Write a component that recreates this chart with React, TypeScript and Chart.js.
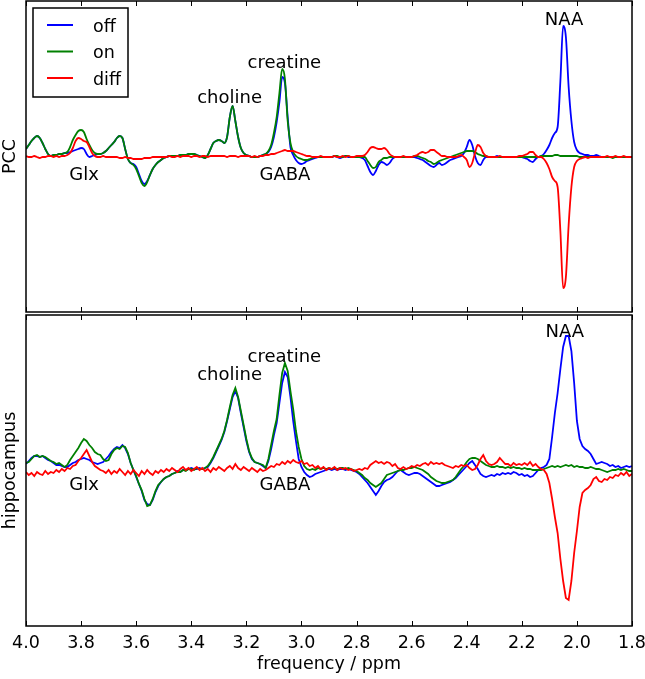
import { useEffect, useRef } from "react";
import { Chart, registerables } from "chart.js";

Chart.register(...registerables);

const FONT = "'DejaVu Sans', sans-serif";

// chemical shift grid (ppm)
const ppm = [
  4.00, 3.99, 3.98, 3.97, 3.96, 3.95, 3.94, 3.93, 3.92, 3.91,
  3.90, 3.89, 3.88, 3.87, 3.86, 3.85, 3.84, 3.83, 3.82, 3.81,
  3.80, 3.79, 3.78, 3.77, 3.76, 3.75, 3.74, 3.73, 3.72, 3.71,
  3.70, 3.69, 3.68, 3.67, 3.66, 3.65, 3.64, 3.63, 3.62, 3.61,
  3.60, 3.59, 3.58, 3.57, 3.56, 3.55, 3.54, 3.53, 3.52, 3.51,
  3.50, 3.49, 3.48, 3.47, 3.46, 3.45, 3.44, 3.43, 3.42, 3.41,
  3.40, 3.39, 3.38, 3.37, 3.36, 3.35, 3.34, 3.33, 3.32, 3.31,
  3.30, 3.29, 3.28, 3.27, 3.26, 3.25, 3.24, 3.23, 3.22, 3.21,
  3.20, 3.19, 3.18, 3.17, 3.16, 3.15, 3.14, 3.13, 3.12, 3.11,
  3.10, 3.09, 3.08, 3.07, 3.06, 3.05, 3.04, 3.03, 3.02, 3.01,
  3.00, 2.99, 2.98, 2.97, 2.96, 2.95, 2.94, 2.93, 2.92, 2.91,
  2.90, 2.89, 2.88, 2.87, 2.86, 2.85, 2.84, 2.83, 2.82, 2.81,
  2.80, 2.79, 2.78, 2.77, 2.76, 2.75, 2.74, 2.73, 2.72, 2.71,
  2.70, 2.69, 2.68, 2.67, 2.66, 2.65, 2.64, 2.63, 2.62, 2.61,
  2.60, 2.59, 2.58, 2.57, 2.56, 2.55, 2.54, 2.53, 2.52, 2.51,
  2.50, 2.49, 2.48, 2.47, 2.46, 2.45, 2.44, 2.43, 2.42, 2.41,
  2.40, 2.39, 2.38, 2.37, 2.36, 2.35, 2.34, 2.33, 2.32, 2.31,
  2.30, 2.29, 2.28, 2.27, 2.26, 2.25, 2.24, 2.23, 2.22, 2.21,
  2.20, 2.19, 2.18, 2.17, 2.16, 2.15, 2.14, 2.13, 2.12, 2.11,
  2.10, 2.09, 2.08, 2.07, 2.06, 2.05, 2.04, 2.03, 2.02, 2.01,
  2.00, 1.99, 1.98, 1.97, 1.96, 1.95, 1.94, 1.93, 1.92, 1.91,
  1.90, 1.89, 1.88, 1.87, 1.86, 1.85, 1.84, 1.83, 1.82, 1.81,
  1.80,
];

const xTickValues = [4.0, 3.8, 3.6, 3.4, 3.2, 3.0, 2.8, 2.6, 2.4, 2.2, 2.0, 1.8];
const xTickLabels = ["4.0", "3.8", "3.6", "3.4", "3.2", "3.0", "2.8", "2.6", "2.4", "2.2", "2.0", "1.8"];
const xTitle = "frequency / ppm";

const seriesNames = ["off", "on", "diff"];
const seriesColors = ["#0000ff", "#008000", "#ff0000"];

// ---- PCC (top panel) ----
const pccOff = [
  8, 12, 16, 19, 21, 19, 14, 8, 3, 1,
  2, 2, 3, 3, 4, 4, 5, 6, 7, 8,
  9, 8, 3, 0, 1, 2, 3, 3, 4, 6,
  9, 12, 15, 19, 21, 19, 8, -2, -6, -7,
  -10, -17, -24, -27, -24, -18, -12, -8, -5, -3,
  -1, 0, 1, 1, 1, 1, 2, 2, 2, 3,
  3, 3, 2, 1, 0, -1, 2, 8, 14, 16,
  17, 16, 14, 20, 40, 51, 36, 20, 9, 4,
  2, 1, 0, 0, 0, 1, 2, 3, 5, 10,
  20, 35, 55, 80, 74, 40, 10, 2, -3, -6,
  -7, -6, -4, -3, -2, -1, 0, 0, 0, 0,
  0, 0, 1, 0, -1, 0, 1, 0, 0, 0,
  0, 0, -1, -3, -9, -15, -18, -14, -8, -5,
  -6, -8, -6, -2, 0, 0, 0, 0, 0, 0,
  0, 0, -1, -2, -3, -5, -7, -9, -10, -8,
  -6, -8, -7, -5, -3, -2, -1, 0, 1, 4,
  10, 17, 12, 1, -6, -8, -3, 0, 0, 0,
  0, 1, 0, 0, 0, 0, 0, 0, 0, 0,
  0, -1, -2, -4, -5, -2, 0, 1, 3, 7,
  12, 19, 24, 30, 76, 131, 120, 70, 36, 15,
  7, 4, 3, 2, 2, 1, 1, 2, 1, 0,
  0, 0, 0, 0, 0, 0, 0, 0, 0, 0,
  0,
];

const pccOn = [
  8, 12, 16, 19, 21, 19, 14, 8, 3, 1,
  2, 2, 3, 3, 4, 5, 10, 17, 22, 26,
  27, 25, 18, 12, 7, 4, 3, 3, 4, 6,
  9, 12, 15, 19, 21, 19, 8, -2, -6, -8,
  -12, -19, -26, -29, -25, -18, -12, -8, -5, -3,
  -1, 0, 1, 1, 1, 1, 2, 2, 2, 3,
  3, 3, 2, 1, 0, -1, 2, 8, 14, 16,
  17, 16, 14, 20, 40, 51, 36, 20, 9, 4,
  2, 1, 0, 0, 0, 1, 2, 3, 6, 12,
  24, 40, 64, 88, 78, 36, 14, 5, 1, -1,
  -2, -3, -3, -2, -1, 0, 0, 0, 0, 0,
  0, 0, 1, 1, 0, 0, 1, 1, 0, 0,
  0, 0, 0, 0, -4, -8, -11, -10, -5, -3,
  -1, -1, 0, 0, 0, 0, 0, 0, 0, 0,
  0, 1, 1, 0, -1, -2, -4, -5, -7, -6,
  -4, -3, -2, -1, 0, 1, 2, 3, 4, 5,
  6, 6, 6, 5, 3, 2, 1, 1, 0, 0,
  0, 0, 0, 0, 0, 0, 0, 0, 0, 0,
  0, 0, 0, 0, 0, 0, 0, 1, 1, 1,
  1, 1, 2, 2, 1, 1, 1, 1, 1, 1,
  1, 0, 0, 0, 0, 0, 0, 0, 0, 0,
  0, 0, 0, -1, 0, 0, 0, 0, 0, 0,
  0,
];

const pccDiff = [
  1, 0, 0, 1, 0, -1, 0, 0, 1, 1,
  0, 1, 0, 1, 1, 2, 4, 9, 16, 19,
  18, 16, 15, 10, 4, 1, 0, 0, 1, 0,
  0, 0, 0, 0, -1, -1, 0, -1, -1, -2,
  -2, -2, -2, -1, -1, -1, 0, 0, 0, 0,
  0, 0, 1, 0, 0, 1, 0, 1, 1, 1,
  0, 1, 1, 0, 1, 1, 0, 1, 1, 1,
  1, 1, 1, 0, 1, 1, 1, 0, 1, 1,
  1, 1, 0, 1, 0, 1, 1, 2, 2, 3,
  3, 4, 5, 6, 7, 6, 6, 6, 5, 4,
  3, 2, 1, 1, 0, 0, 0, 1, 0, 0,
  0, 0, 1, 0, 0, 1, 0, 1, 0, 0,
  1, 1, 1, 2, 5, 9, 10, 9, 8, 8,
  9, 7, 3, 1, 0, 0, 0, 1, 0, 0,
  0, 1, 2, 4, 5, 4, 5, 7, 7, 5,
  3, 1, 1, 0, 0, 0, 0, 1, 2, 0,
  -3, -10, -6, 4, 12, 10, 4, 1, 0, 0,
  0, 0, 1, 0, 0, 0, 0, 0, 0, 1,
  1, 2, 3, 5, 5, 2, 0, 0, -2, -6,
  -12, -20, -24, -30, -74, -131, -120, -68, -30, -10,
  -4, -2, -1, 0, -1, 0, 0, 0, 0, 0,
  0, 1, 0, 0, 1, 0, 0, 1, 0, 0,
  0,
];

// ---- hippocampus (bottom panel) ----
const hipOff = [
  7, 10, 13, 15, 15, 14, 15, 13, 11, 10,
  8, 6, 6, 5, 4, 4, 6, 8, 9, 11,
  12, 13, 12, 11, 9, 8, 7, 8, 9, 12,
  15, 19, 22, 24, 23, 26, 23, 17, 8, 1,
  -6, -13, -20, -29, -33, -34, -29, -21, -15, -11,
  -8, -6, -5, -3, -2, 0, -1, 1, 1, 2,
  3, 2, 2, 3, 2, 3, 4, 8, 13, 19,
  25, 31, 39, 50, 62, 74, 80, 73, 58, 44,
  30, 19, 12, 9, 8, 7, 5, 3, 10, 22,
  36, 48, 68, 88, 99, 94, 74, 50, 30, 12,
  4, -1, -4, -6, -5, -3, -2, -1, 0, 1,
  2, 1, 2, 1, 2, 2, 1, 2, 1, 0,
  -1, -3, -6, -9, -12, -16, -20, -24, -20, -15,
  -11, -9, -8, -6, -3, 0, 1, -1, -3, -4,
  -3, -2, -2, -3, -5, -7, -9, -11, -13, -15,
  -15, -14, -13, -12, -11, -9, -7, -4, -1, 2,
  5, 8, 10, 6, 2, -3, -5, -6, -5, -4,
  -5, -3, -4, -2, -3, -2, -3, -1, -2, -4,
  -3, -5, -4, -6, -5, -2, 1, 3, 4, 6,
  12, 34, 58, 78, 102, 124, 135, 135, 120, 88,
  50, 32, 25, 22, 20, 17, 12, 7, 8, 9,
  8, 7, 5, 6, 4, 5, 3, 4, 5, 4,
  5,
];

const hipOn = [
  8, 9, 12, 15, 16, 14, 15, 14, 12, 10,
  9, 7, 8, 6, 4, 6, 11, 15, 19, 23,
  28, 32, 30, 26, 23, 19, 17, 16, 12, 10,
  11, 17, 21, 23, 22, 25, 24, 18, 8, 1,
  -5, -13, -19, -28, -35, -34, -28, -20, -14, -11,
  -8, -6, -5, -3, -2, -1, -1, 1, 0, 2,
  2, 1, 3, 2, 2, 3, 5, 9, 14, 20,
  26, 32, 40, 51, 64, 76, 83, 74, 60, 46,
  32, 20, 13, 9, 8, 7, 6, 3, 12, 26,
  40, 52, 76, 98, 108, 100, 80, 62, 40, 24,
  12, 5, 2, 1, 2, 1, 3, 2, 3, 2,
  3, 2, 3, 2, 3, 3, 2, 3, 2, 1,
  0, -2, -4, -7, -9, -12, -14, -16, -14, -12,
  -8, -4, -3, -2, -1, 0, 1, 1, 2, 3,
  3, 4, 3, 2, 1, -1, -3, -6, -8, -10,
  -11, -12, -12, -11, -10, -9, -6, -2, 2, 5,
  9, 12, 13, 13, 12, 10, 8, 6, 5, 4,
  4, 5, 4, 4, 3, 4, 3, 4, 3, 3,
  2, 3, 2, 2, 1, 1, 1, 1, 2, 3,
  4, 5, 4, 5, 4, 5, 6, 5, 6, 4,
  5, 4, 4, 3, 3, 4, 3, 2, 2, 1,
  0, -1, 0, 1, 1, 2, 1, 2, 1, 0,
  0,
];

const hipDiff = [
  -1, -4, -2, -5, -1, -3, -4, 0, -3, -1,
  -2, 1, -1, 2, 0, 3, 2, 5, 6, 10,
  13, 17, 21, 15, 9, 5, 3, 1, 0, -2,
  1, -3, 0, -2, 2, -1, -4, 0, -3, 1,
  -2, -5, 0, -3, 1, -2, -4, 0, -2, 1,
  -1, 2, 0, 3, 1, -1, 2, 4, 1, 3,
  0, 2, 4, 1, 3, 0, 2, -1, 3, 1,
  4, 2, 0, 3, 5, 2, 7, 3, 1, 4,
  2, 0, 3, 1, -1, 2, 0, 1, 3, 5,
  4, 7, 6, 9, 7, 10, 8, 11, 9, 8,
  10, 7, 8, 5, 6, 3, 5, 2, 4, 1,
  3, 2, 4, 1, 3, 2, 3, 1, 2, 0,
  1, 2, 1, 3, 2, 6, 8, 10, 8, 9,
  7, 9, 8, 5, 7, 3, 2, 4, 2, 3,
  5, 4, 6, 5, 7, 8, 6, 9, 7, 8,
  7, 8, 6, 5, 4, 3, 5, 4, 6, 5,
  6, 3, 1, 2, 6, 12, 16, 10, 7, 6,
  7, 9, 13, 10, 7, 7, 5, 8, 6, 7,
  6, 8, 6, 9, 5, 7, 4, 2, 1, -3,
  -12, -28, -46, -62, -88, -110, -127, -129, -110, -82,
  -60, -36, -22, -19, -17, -14, -8, -6, -10, -11,
  -8, -9, -6, -7, -4, -5, -2, -4, -1, -5,
  -3,
];

// peak annotations
const pccPeakText = ["NAA", "creatine", "choline", "Glx", "GABA"];
const pccPeakPpm = [2.047, 3.062, 3.261, 3.789, 3.060];
const pccPeakLevel = [132, 89, 54, -23, -23];

const hipPeakText = ["NAA", "creatine", "choline", "Glx", "GABA"];
const hipPeakPpm = [2.044, 3.062, 3.261, 3.789, 3.060];
const hipPeakLevel = [134, 109, 91, -19, -19];

const yMin = -155;
const yMax = 156;

function points(values: number[]) {
  return ppm.map((x, i) => ({ x, y: values[i] }));
}

const framePlugin = {
  id: "frameTicks",
  afterDraw(chart: any) {
    const { ctx, chartArea: a, scales } = chart;
    const xs = scales.x;
    ctx.save();
    ctx.strokeStyle = "#000";
    ctx.lineWidth = 1;
    for (const v of xTickValues) {
      const px = Math.round(xs.getPixelForValue(v)) + 0.5;
      ctx.beginPath();
      ctx.moveTo(px, a.top);
      ctx.lineTo(px, a.top + 5);
      ctx.moveTo(px, a.bottom);
      ctx.lineTo(px, a.bottom - 5);
      ctx.stroke();
    }
    ctx.lineWidth = 1.5;
    ctx.strokeRect(a.left, a.top, a.right - a.left, a.bottom - a.top);
    ctx.restore();
  },
};

// tick labels + x title under the bottom panel, placed by the x scale
const xAxisTextPlugin = {
  id: "xAxisText",
  afterDraw(chart: any) {
    const { ctx, chartArea: a, scales } = chart;
    const xs = scales.x;
    ctx.save();
    ctx.fillStyle = "#000";
    ctx.font = `17.5px ${FONT}`;
    ctx.textAlign = "center";
    ctx.textBaseline = "alphabetic";
    xTickValues.forEach((v, i) => {
      ctx.fillText(xTickLabels[i], xs.getPixelForValue(v), a.bottom + 22);
    });
    ctx.fillText(xTitle, (a.left + a.right) / 2, a.bottom + 43);
    ctx.restore();
  },
};

const peakLabelPlugin = {
  id: "peakLabels",
  afterDatasetsDraw(chart: any, _args: any, opts: any) {
    const { ctx, scales } = chart;
    ctx.save();
    ctx.fillStyle = "#000";
    ctx.font = `18px ${FONT}`;
    ctx.textAlign = "center";
    ctx.textBaseline = "alphabetic";
    opts.text.forEach((t: string, i: number) => {
      const x = scales.x.getPixelForValue(opts.ppm[i]);
      const y = scales.y.getPixelForValue(opts.level[i]);
      ctx.fillText(t, x, y);
    });
    ctx.restore();
  },
};

const boxLegendPlugin = {
  id: "boxLegend",
  afterDraw(chart: any) {
    const { ctx, chartArea: a } = chart;
    const left = a.left + 7;
    const top = a.top + 7;
    const w = 95;
    const h = 89;
    ctx.save();
    ctx.fillStyle = "#fff";
    ctx.fillRect(left, top, w, h);
    ctx.strokeStyle = "#000";
    ctx.lineWidth = 1.5;
    ctx.strokeRect(left, top, w, h);
    ctx.font = `17.5px ${FONT}`;
    ctx.textAlign = "left";
    ctx.textBaseline = "alphabetic";
    chart.data.datasets.forEach((ds: any, i: number) => {
      const y = top + 17 + i * 26.5;
      ctx.strokeStyle = ds.borderColor;
      ctx.lineWidth = 2;
      ctx.beginPath();
      ctx.moveTo(left + 14, y);
      ctx.lineTo(left + 40, y);
      ctx.stroke();
      ctx.fillStyle = "#000";
      ctx.fillText(ds.label, left + 60, y + 6.5);
    });
    ctx.restore();
  },
};

function makeDatasets(series: number[][], smooth: boolean) {
  return series.map((vals, i) => ({
    label: seriesNames[i],
    data: points(vals),
    borderColor: seriesColors[i],
    backgroundColor: seriesColors[i],
    borderWidth: 1.8,
    pointRadius: 0,
    fill: false,
    order: 3 - i,
    cubicInterpolationMode: smooth ? ("monotone" as const) : ("default" as const),
    tension: 0,
  }));
}

function yAxis(title: string) {
  return {
    type: "linear" as const,
    min: yMin,
    max: yMax,
    grid: { display: false },
    border: { display: false },
    ticks: { display: false },
    title: {
      display: true,
      text: title,
      color: "#000",
      font: { family: FONT, size: 17.5 },
      padding: 0,
    },
    afterFit: (s: any) => {
      s.width = 26;
      s.paddingTop = 0;
      s.paddingBottom = 0;
    },
  };
}

export default function App() {
  const topRef = useRef<HTMLCanvasElement>(null);
  const botRef = useRef<HTMLCanvasElement>(null);

  useEffect(() => {
    Chart.defaults.font.family = FONT;
    Chart.defaults.color = "#000";

    const top = new Chart(topRef.current!, {
      type: "line",
      data: { datasets: makeDatasets([pccOff, pccOn, pccDiff], true) as any },
      options: {
        animation: false,
        responsive: false,
        maintainAspectRatio: false,
        events: [],
        layout: { padding: { left: 0, right: 13, top: 1, bottom: 2 } },
        scales: {
          x: { type: "linear", reverse: true, min: 1.8, max: 4.0, display: false },
          y: yAxis("PCC") as any,
        },
        plugins: {
          legend: { display: false },
          tooltip: { enabled: false },
          peakLabels: { text: pccPeakText, ppm: pccPeakPpm, level: pccPeakLevel },
        } as any,
      },
      plugins: [framePlugin, peakLabelPlugin, boxLegendPlugin],
    });

    const bottom = new Chart(botRef.current!, {
      type: "line",
      data: { datasets: makeDatasets([hipOff, hipOn, hipDiff], false) as any },
      options: {
        animation: false,
        responsive: false,
        maintainAspectRatio: false,
        events: [],
        layout: { padding: { left: 0, right: 13, top: 1, bottom: 53 } },
        scales: {
          x: { type: "linear", reverse: true, min: 1.8, max: 4.0, display: false },
          y: yAxis("hippocampus") as any,
        },
        plugins: {
          legend: { display: false },
          tooltip: { enabled: false },
          peakLabels: { text: hipPeakText, ppm: hipPeakPpm, level: hipPeakLevel },
        } as any,
      },
      plugins: [framePlugin, peakLabelPlugin, xAxisTextPlugin],
    });

    return () => {
      top.destroy();
      bottom.destroy();
    };
  }, []);

  return (
    <div
      style={{
        position: "absolute",
        left: 0,
        top: 0,
        width: 645,
        height: 679,
        background: "#fff",
        overflow: "hidden",
      }}
    >
      <canvas
        ref={topRef}
        width={645}
        height={314}
        style={{ position: "absolute", left: 0, top: 0, width: 645, height: 314 }}
      />
      <canvas
        ref={botRef}
        width={645}
        height={365}
        style={{ position: "absolute", left: 0, top: 314, width: 645, height: 365 }}
      />
    </div>
  );
}
